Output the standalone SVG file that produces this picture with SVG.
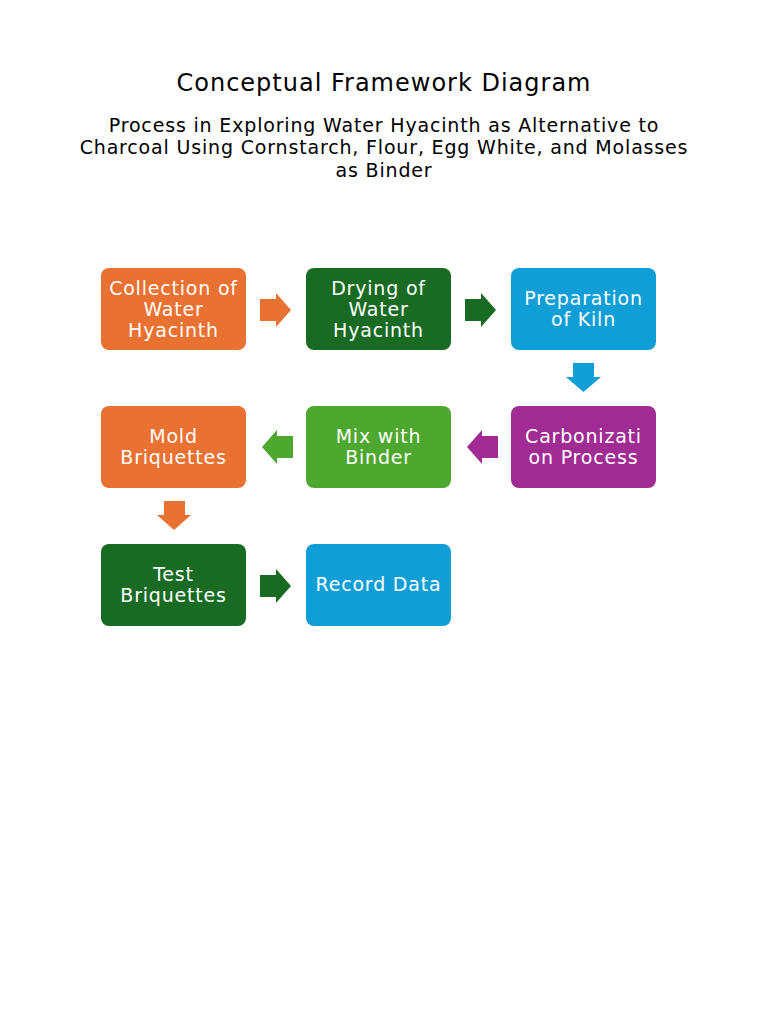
<svg xmlns="http://www.w3.org/2000/svg" width="768" height="1024" viewBox="0 0 768 1024">
<style>
.t{font-family:"DejaVu Sans",sans-serif;fill:#000;text-anchor:middle}
.s{font-size:19px;letter-spacing:0.83px}
.n{font-family:"DejaVu Sans",sans-serif;fill:#fff;text-anchor:middle;font-size:19px;letter-spacing:0.8px}
.orange{fill:#E97132}.dgreen{fill:#196B24}.blue{fill:#0F9ED5}.purple{fill:#A02B93}.lgreen{fill:#4EA72E}
</style>
<rect width="768" height="1024" fill="#fff"/>
<text class="t" x="384" y="91" font-size="24" letter-spacing="1">Conceptual Framework Diagram</text>
<text class="t s" x="384" y="132">Process in Exploring Water Hyacinth as Alternative to</text>
<text class="t s" x="384" y="154">Charcoal Using Cornstarch, Flour, Egg White, and Molasses</text>
<text class="t s" x="384" y="177">as Binder</text>
<g id="connectors">
<polygon class="orange" points="260,299 276,299 276,293 291,310 276,327 276,321 260,321"/>
<polygon class="dgreen" points="465,299 481,299 481,293 496,310 481,327 481,321 465,321"/>
<polygon class="blue" points="573,363 594,363 594,377 601,377 583.5,392 566,377 573,377"/>
<polygon class="purple" points="498,436 482,436 482,430 467,447 482,464 482,458 498,458"/>
<polygon class="lgreen" points="293,436 277,436 277,430 262,447 277,464 277,458 293,458"/>
<polygon class="orange" points="164,501 185,501 185,515 191,515 174,530 157,515 164,515"/>
<polygon class="dgreen" points="260,575 276,575 276,569 291,586 276,603 276,597 260,597"/>
</g>
<g id="n1"><rect class="orange" x="101" y="268" width="145" height="82" rx="8"/><text class="n" x="173.5" y="295">Collection of</text><text class="n" x="173.5" y="316">Water</text><text class="n" x="173.5" y="337">Hyacinth</text></g>
<g id="n2"><rect class="dgreen" x="306" y="268" width="145" height="82" rx="8"/><text class="n" x="378.5" y="295">Drying of</text><text class="n" x="378.5" y="316">Water</text><text class="n" x="378.5" y="337">Hyacinth</text></g>
<g id="n3"><rect class="blue" x="511" y="268" width="145" height="82" rx="8"/><text class="n" x="583.5" y="305">Preparation</text><text class="n" x="583.5" y="326">of Kiln</text></g>
<g id="n4"><rect class="purple" x="511" y="406" width="145" height="82" rx="8"/><text class="n" x="583.5" y="443">Carbonizati</text><text class="n" x="583.5" y="464">on Process</text></g>
<g id="n5"><rect class="lgreen" x="306" y="406" width="145" height="82" rx="8"/><text class="n" x="378.5" y="443">Mix with</text><text class="n" x="378.5" y="464">Binder</text></g>
<g id="n6"><rect class="orange" x="101" y="406" width="145" height="82" rx="8"/><text class="n" x="173.5" y="443">Mold</text><text class="n" x="173.5" y="464">Briquettes</text></g>
<g id="n7"><rect class="dgreen" x="101" y="544" width="145" height="82" rx="8"/><text class="n" x="173.5" y="581">Test</text><text class="n" x="173.5" y="602">Briquettes</text></g>
<g id="n8"><rect class="blue" x="306" y="544" width="145" height="82" rx="8"/><text class="n" x="378.5" y="591">Record Data</text></g>
</svg>
